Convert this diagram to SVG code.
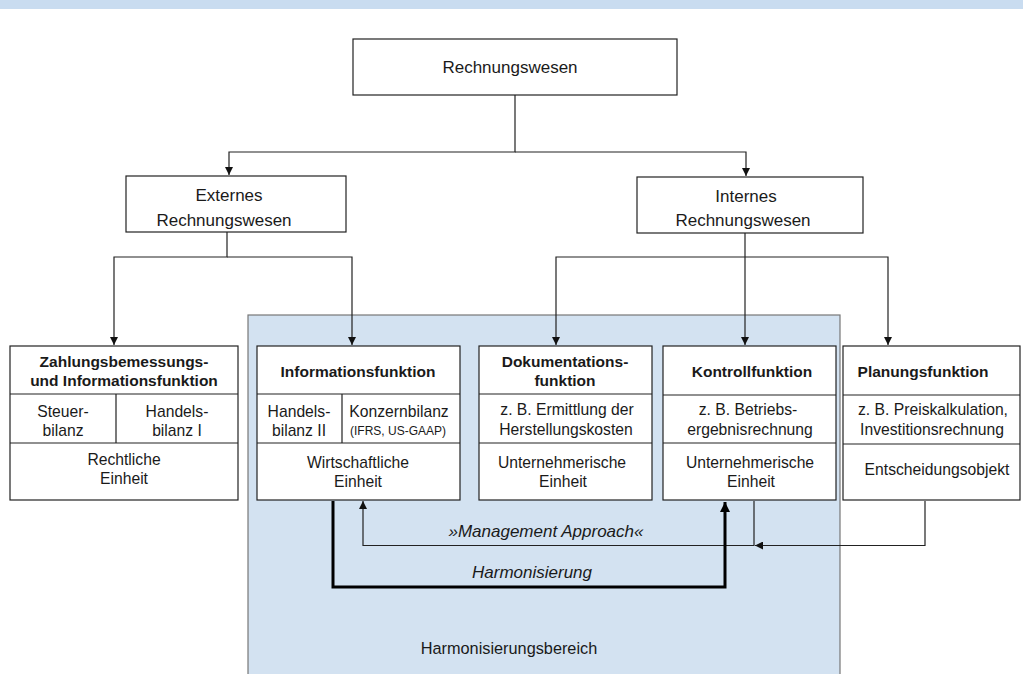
<svg xmlns="http://www.w3.org/2000/svg" width="1023" height="674" viewBox="0 0 1023 674">
<defs>
<style>
text{font-family:"Liberation Sans",Arial,sans-serif;fill:#1a1a1a;text-anchor:middle}
.top{font-size:17px}
.b{font-size:15.5px;font-weight:bold}
.t{font-size:15.7px}
.s{font-size:12px}
.i{font-size:17px;font-style:italic}
.box{fill:#fff;stroke:#222;stroke-width:1.2}
.div{stroke:#222;stroke-width:1.2;fill:none}
.con{fill:none;stroke:#222;stroke-width:1.2}
.thick{fill:none;stroke:#000;stroke-width:3}
</style>
<marker id="ah" viewBox="0 0 10 10" refX="10" refY="5" markerWidth="8" markerHeight="8" markerUnits="userSpaceOnUse" orient="auto">
<path d="M0,0 L10,5 L0,10 z" fill="#111"/>
</marker>
<marker id="ahT" viewBox="0 0 10 10" refX="10" refY="5" markerWidth="11" markerHeight="10" markerUnits="userSpaceOnUse" orient="auto">
<path d="M0,0 L10,5 L0,10 z" fill="#000"/>
</marker>
</defs>
<rect x="0" y="0" width="1023" height="9" fill="#c9dcf0"/>
<g id="harmonisierungsbereich">
<rect x="248" y="315" width="592" height="365" fill="#d3e2f1" stroke="#777" stroke-width="1.2"/>
<text class="t" x="509" y="654" style="font-size:16.3px">Harmonisierungsbereich</text>
</g>
<g id="connectors">
<path class="con" d="M515,95 V152 H229 V175" marker-end="url(#ah)"/>
<path class="con" d="M515,152 H746 V176" marker-end="url(#ah)"/>
<path class="con" d="M227,232 V257 H114 V345" marker-end="url(#ah)"/>
<path class="con" d="M227,257 H352 V345" marker-end="url(#ah)"/>
<path class="con" d="M745,233 V345" marker-end="url(#ah)"/>
<path class="con" d="M745,257 H556 V345" marker-end="url(#ah)"/>
<path class="con" d="M745,257 H888 V345" marker-end="url(#ah)"/>
<path class="con" d="M925,501 V545.5 H755" marker-end="url(#ah)"/>
<path class="con" d="M754,501 V545.5 H363 V501" marker-end="url(#ah)"/>
<path class="thick" d="M333,501 V587 H725 V502" marker-end="url(#ahT)"/>
<text class="i" x="546" y="537">»Management Approach«</text>
<text class="i" x="532" y="578">Harmonisierung</text>
</g>
<g id="rechnungswesen">
<rect class="box" x="353" y="39" width="324" height="56"/>
<text class="top" x="510" y="73">Rechnungswesen</text>
</g>
<g id="externes">
<rect class="box" x="126" y="176" width="220" height="56"/>
<text class="top" x="229" y="201">Externes</text>
<text class="top" x="224" y="226">Rechnungswesen</text>
</g>
<g id="internes">
<rect class="box" x="637" y="177" width="226" height="56"/>
<text class="top" x="746" y="202">Internes</text>
<text class="top" x="743" y="226">Rechnungswesen</text>
</g>
<g id="zahlungsbemessung">
<rect class="box" x="10" y="346" width="228" height="154"/>
<path class="div" d="M10,394 H238 M10,443 H238 M116,394 V443"/>
<text class="b" x="124" y="367">Zahlungsbemessungs-</text>
<text class="b" x="124" y="385.5">und Informationsfunktion</text>
<text class="t" x="63" y="417">Steuer-</text>
<text class="t" x="63" y="436">bilanz</text>
<text class="t" x="177" y="417">Handels-</text>
<text class="t" x="177" y="436">bilanz I</text>
<text class="t" x="124" y="465">Rechtliche</text>
<text class="t" x="124" y="484">Einheit</text>
</g>
<g id="informationsfunktion">
<rect class="box" x="257" y="346" width="203" height="154"/>
<path class="div" d="M257,394 H460 M257,443 H460 M342,394 V443"/>
<text class="b" x="358" y="377">Informationsfunktion</text>
<text class="t" x="299" y="417">Handels-</text>
<text class="t" x="299" y="436">bilanz II</text>
<text class="t" x="399" y="417">Konzernbilanz</text>
<text class="s" x="398" y="435">(IFRS, US-GAAP)</text>
<text class="t" x="358" y="468">Wirtschaftliche</text>
<text class="t" x="358" y="487">Einheit</text>
</g>
<g id="dokumentation">
<rect class="box" x="479" y="346" width="173" height="154"/>
<path class="div" d="M479,394 H652 M479,443 H652"/>
<text class="b" x="565" y="367">Dokumentations-</text>
<text class="b" x="565" y="386">funktion</text>
<text class="t" x="567" y="415">z. B. Ermittlung der</text>
<text class="t" x="566" y="435">Herstellungskosten</text>
<text class="t" x="562" y="468">Unternehmerische</text>
<text class="t" x="563" y="487">Einheit</text>
</g>
<g id="kontrollfunktion">
<rect class="box" x="663" y="346" width="173" height="154"/>
<path class="div" d="M663,395 H836 M663,443 H836"/>
<text class="b" x="752" y="377">Kontrollfunktion</text>
<text class="t" x="748" y="415">z. B. Betriebs-</text>
<text class="t" x="750" y="435">ergebnisrechnung</text>
<text class="t" x="750" y="468">Unternehmerische</text>
<text class="t" x="751" y="487">Einheit</text>
</g>
<g id="planungsfunktion">
<rect class="box" x="843" y="346" width="177" height="154"/>
<path class="div" d="M843,395 H1020 M843,444 H1020"/>
<text class="b" x="923" y="377">Planungsfunktion</text>
<text class="t" x="933" y="415">z. B. Preiskalkulation,</text>
<text class="t" x="932" y="435">Investitionsrechnung</text>
<text class="t" x="937" y="475">Entscheidungsobjekt</text>
</g>
</svg>
